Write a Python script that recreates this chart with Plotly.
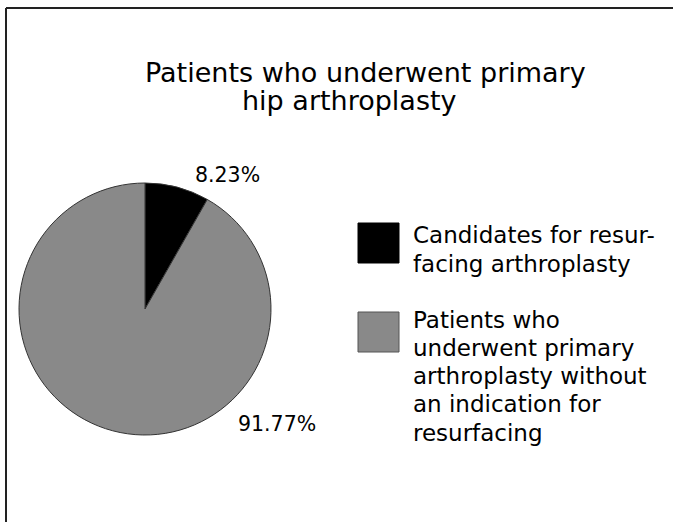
import plotly.graph_objects as go

# ---- data ----
categories = [
    "Candidates for resurfacing arthroplasty",
    "Patients who underwent primary arthroplasty without an indication for resurfacing",
]
percentages = [8.23, 91.77]
legend_lines = [
    ["Candidates for resur-", "facing arthroplasty"],
    ["Patients who", "underwent primary", "arthroplasty without", "an indication for", "resurfacing"],
]
title_lines = ["Patients who underwent primary", "hip arthroplasty"]
slice_colors = ["#000000", "#898989"]

W, H = 673, 522
FONT = "DejaVu Sans"


def fx(x):
    return x / W


def fy(y):
    return 1 - y / H


fig = go.Figure()

fig.add_trace(go.Pie(
    labels=categories,
    values=percentages,
    sort=False,
    direction="clockwise",
    rotation=0,
    textinfo="none",
    hoverinfo="label+percent",
    marker=dict(colors=slice_colors, line=dict(color="#333333", width=1)),
    domain=dict(x=[fx(19), fx(271)], y=[fy(435), fy(183)]),
    showlegend=False,
))

annotations = []
# title (two separately placed lines)
annotations.append(dict(text=title_lines[0], x=fx(143), y=fy(72), xanchor="left", yanchor="middle",
                        font=dict(size=27, family=FONT, color="#000")))
annotations.append(dict(text=title_lines[1], x=fx(240), y=fy(100), xanchor="left", yanchor="middle",
                        font=dict(size=27, family=FONT, color="#000")))

# percentage labels
label_pos = [(193, 175), (236, 424)]
for val, (lx, ly) in zip(percentages, label_pos):
    annotations.append(dict(text=f"{val:.2f}%", x=fx(lx), y=fy(ly), xanchor="left", yanchor="middle",
                            font=dict(size=20.5, family=FONT, color="#000")))

# legend text
legend_first_baseline = [244, 328]
for lines, b0 in zip(legend_lines, legend_first_baseline):
    for i, t in enumerate(lines):
        yb = b0 + i * 28.3
        annotations.append(dict(text=t, x=fx(411), y=fy(yb - 8.5), xanchor="left", yanchor="middle",
                                font=dict(size=23, family=FONT, color="#000")))

for a in annotations:
    a.update(xref="paper", yref="paper", showarrow=False)

shapes = []
# legend squares
sq_tops = [223, 312]
sq_lines = ["#000000", "#555555"]
for c, top, lc in zip(slice_colors, sq_tops, sq_lines):
    shapes.append(dict(type="rect", xref="paper", yref="paper",
                       x0=fx(358), x1=fx(399), y0=fy(top + 40), y1=fy(top),
                       fillcolor=c, line=dict(color=lc, width=1)))
# frame (left and top edges)
shapes.append(dict(type="line", xref="paper", yref="paper", x0=fx(6), x1=fx(6), y0=0, y1=fy(8),
                   line=dict(color="#222222", width=2)))
shapes.append(dict(type="line", xref="paper", yref="paper", x0=fx(6), x1=1, y0=fy(8), y1=fy(8),
                   line=dict(color="#222222", width=2)))

fig.update_layout(
    width=W, height=H,
    margin=dict(l=0, r=0, t=0, b=0),
    paper_bgcolor="white",
    plot_bgcolor="white",
    annotations=annotations,
    shapes=shapes,
    font=dict(family=FONT),
)

fig.write_html("out.html")
